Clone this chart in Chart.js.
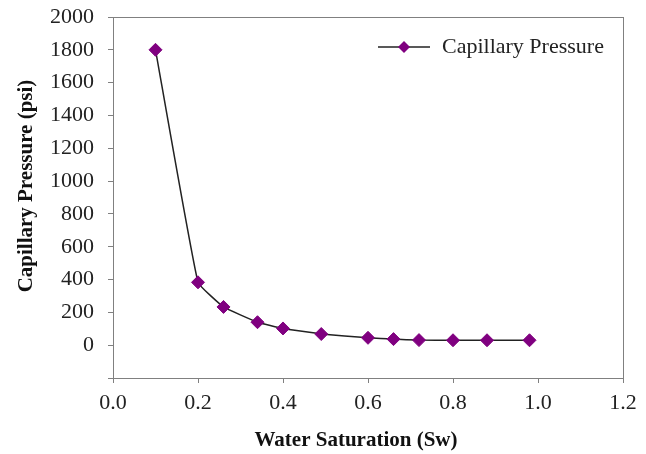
<!DOCTYPE html>
<html>
<head>
<meta charset="utf-8">
<script src="https://cdn.jsdelivr.net/npm/chart.js@4.4.0/dist/chart.umd.min.js"></script>
<style>
  html, body { margin: 0; padding: 0; background: #fff; }
  #wrap { width: 646px; height: 454px; }
</style>
</head>
<body>
<div id="wrap"><canvas id="pcChart" width="646" height="454"></canvas></div>
<script>
// ---------------- Data ----------------
const seriesLabel = "Capillary Pressure";
const xTitle = "Water Saturation (Sw)";
const yTitle = "Capillary Pressure (psi)";
const waterSat = [0.10, 0.20, 0.26, 0.34, 0.40, 0.49, 0.60, 0.66, 0.72, 0.80, 0.88, 0.98];
const pressure = [1800, 383, 233, 140, 102, 68, 45, 37, 31, 30, 30, 30];
const yTicks = [-200, 0, 200, 400, 600, 800, 1000, 1200, 1400, 1600, 1800, 2000];
const xTicks = [0.0, 0.2, 0.4, 0.6, 0.8, 1.0, 1.2];

const SERIF = "'Liberation Serif', 'Times New Roman', serif";
const MARKER = "#800080";
const AXIS = "#808080";

// ---------------- Plugins ----------------
const frameBox = {
  id: "frameBox",
  afterDraw(chart) {
    const { ctx, chartArea: a } = chart;
    ctx.save();
    ctx.strokeStyle = AXIS;
    ctx.lineWidth = 1;
    ctx.strokeRect(a.left + 0.5, a.top + 0.5, a.right - a.left, a.bottom - a.top);
    ctx.restore();
  }
};

// axis titles sit a little off-centre in the original, so draw them by hand
const axisTitles = {
  id: "axisTitles",
  afterDraw(chart) {
    const { ctx } = chart;
    ctx.save();
    ctx.fillStyle = "#111";
    ctx.font = "bold 21px " + SERIF;
    ctx.textAlign = "center";
    ctx.textBaseline = "middle";
    ctx.fillText(xTitle, 356, 441);
    ctx.translate(27, 186);
    ctx.rotate(-Math.PI / 2);
    ctx.fillText(yTitle, 0, 0);
    ctx.restore();
  }
};

const insideLegend = {
  id: "insideLegend",
  afterDraw(chart) {
    const { ctx } = chart;
    const y = 47;
    ctx.save();
    ctx.strokeStyle = "#222";
    ctx.lineWidth = 1.5;
    ctx.beginPath();
    ctx.moveTo(378, y);
    ctx.lineTo(430, y);
    ctx.stroke();
    ctx.fillStyle = MARKER;
    ctx.beginPath();
    ctx.moveTo(404, y - 6);
    ctx.lineTo(410, y);
    ctx.lineTo(404, y + 6);
    ctx.lineTo(398, y);
    ctx.closePath();
    ctx.fill();
    ctx.fillStyle = "#222";
    ctx.font = "22px " + SERIF;
    ctx.textBaseline = "middle";
    ctx.fillText(chart.data.datasets[0].label, 442, y);
    ctx.restore();
  }
};

// ---------------- Chart ----------------
new Chart(document.getElementById("pcChart"), {
  type: "line",
  data: {
    datasets: [{
      label: seriesLabel,
      data: waterSat.map((x, i) => ({ x, y: pressure[i] })),
      borderColor: "#222",
      borderWidth: 1.5,
      tension: 0.1,
      pointStyle: "rectRot",
      pointRadius: 6.5,
      pointBackgroundColor: MARKER,
      pointBorderColor: MARKER,
      pointBorderWidth: 1
    }]
  },
  options: {
    responsive: false,
    animation: false,
    layout: { padding: { top: 17, right: 23, left: 0, bottom: 0 } },
    plugins: { legend: { display: false }, tooltip: { enabled: false } },
    scales: {
      x: {
        type: "linear",
        min: 0, max: 1.2,
        afterBuildTicks: s => { s.ticks = xTicks.map(v => ({ value: v })); },
        afterFit: s => { s.height = 76; s.paddingLeft = 0; s.paddingRight = 0; },
        grid: { drawOnChartArea: false, tickLength: 5, color: AXIS },
        border: { color: AXIS },
        ticks: {
          color: "#222", padding: 7, maxRotation: 0,
          font: { family: SERIF, size: 22 },
          callback: v => Number(v).toFixed(1)
        }
      },
      y: {
        min: -200, max: 2000,
        afterBuildTicks: s => { s.ticks = yTicks.map(v => ({ value: v })); },
        afterFit: s => { s.width = 113; s.paddingTop = 0; s.paddingBottom = 0; },
        grid: { drawOnChartArea: false, tickLength: 5, color: AXIS },
        border: { color: AXIS },
        ticks: {
          color: "#222", padding: 14,
          font: { family: SERIF, size: 22 },
          callback: v => (v < 0 ? "" : v)
        }
      }
    }
  },
  plugins: [frameBox, axisTitles, insideLegend]
});
</script>
</body>
</html>
